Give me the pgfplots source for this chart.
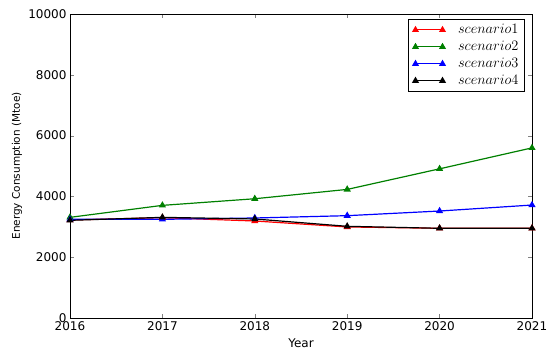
\documentclass[border=0pt]{standalone}
\usepackage{fontspec}
\setmainfont{DejaVu Sans}
\usepackage{pgfplots}
\pgfplotsset{compat=1.18}
\definecolor{mplgreen}{rgb}{0,0.5,0}
\begin{document}
\begin{tikzpicture}
\begin{axis}[
  scale only axis,
  width=462pt, height=304pt,
  xmin=2016, xmax=2021, ymin=0, ymax=10000,
  xtick={2016,2017,2018,2019,2020,2021},
  ytick={0,2000,4000,6000,8000,10000},
  /pgf/number format/1000 sep={},
  /pgf/number format/assume math mode=true,
  tick label style={font=\fontsize{12}{14}\selectfont},
  tick align=inside,
  major tick length=4pt,
  axis line style={line width=0.9pt},
  scaled y ticks=false,
  xlabel={Year},
  ylabel={Energy Consumption (Mtoe)},
  xlabel style={font=\fontsize{12}{14}\selectfont, at={(axis description cs:0.5,0)}, yshift=-25pt, anchor=center},
  ylabel style={font=\fontsize{10.5}{12}\selectfont, at={(axis description cs:-0.1147,0.5)}, anchor=center},
  legend style={at={(1,1)}, xshift=-7pt, yshift=-5pt, anchor=north east, draw=black, line width=0.9pt,
    font=\fontsize{15}{17}\selectfont, row sep=2pt, inner xsep=4pt, inner ysep=3pt},
  legend cell align=left,
  legend image code/.code={\draw[#1, line width=1.1pt] plot coordinates {(0pt,0pt) (27pt,0pt)}; \path (-2pt,0pt) (40pt,0pt);},
  every axis plot/.append style={line width=1.2pt, mark=triangle*, mark size=3pt, mark options={draw=black!80, line width=0.5pt}},
]
\addplot[red, mark options={fill=red}] coordinates {(2016,3224) (2017,3300) (2018,3191) (2019,2995) (2020,2951) (2021,2951)};
\addlegendentry{$scenario1$}
\addplot[mplgreen, mark options={fill=mplgreen}] coordinates {(2016,3311) (2017,3705) (2018,3923) (2019,4230) (2020,4907) (2021,5596)};
\addlegendentry{$scenario2$}
\addplot[blue, mark options={fill=blue}] coordinates {(2016,3246) (2017,3246) (2018,3290) (2019,3366) (2020,3519) (2021,3716)};
\addlegendentry{$scenario3$}
\addplot[black, mark options={fill=black}] coordinates {(2016,3213) (2017,3311) (2018,3257) (2019,3016) (2020,2951) (2021,2951)};
\addlegendentry{$scenario4$}
\end{axis}
\pgfresetboundingbox
\path[use as bounding box] (-70pt,-36pt) rectangle (480pt,318pt);
\end{tikzpicture}
\end{document}
